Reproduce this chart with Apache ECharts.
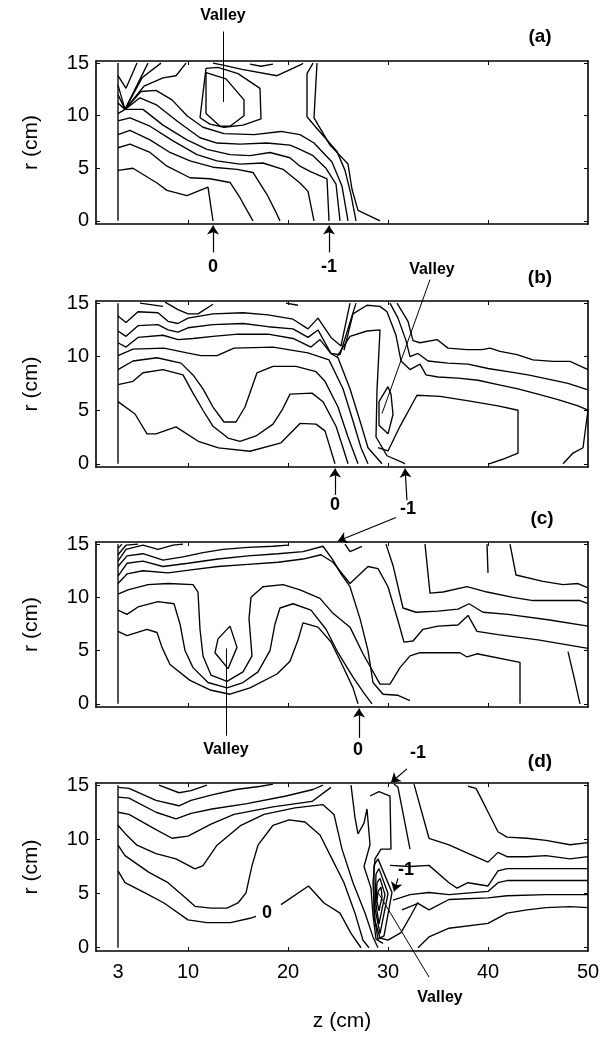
<!DOCTYPE html>
<html><head><meta charset="utf-8">
<script src="https://cdn.jsdelivr.net/npm/echarts@6/dist/echarts.min.js"></script>
<style>html,body{margin:0;padding:0;background:#fff}#c{width:612px;height:1037px}</style>
</head><body><div id="c"></div>
<script>
// ---------- axis ticks ----------
const zTickLabels = [3, 10, 20, 30, 40, 50];
const zTickMarks = [10, 20, 30, 40];
const rTicks = [0, 5, 10, 15];
const panelNames = ['(a)', '(b)', '(c)', '(d)'];

// ---------- contour lines, [z, r] in cm ----------
const contoursA = [
  [[3,0],[3,15]],
  [[3,13.8],[3.8,12.6],[4.9,15]],
  [[3,12.9],[3.7,10.6],[6.0,15]],
  [[3,12.0],[3.7,10.6],[5.4,13.6],[7.3,15]],
  [[3,11.2],[3.7,10.6],[5.6,12.8],[7.5,13.6],[8.8,13.8],[9.8,15]],
  [[3,4.8],[4.5,5.0],[6.9,3.6],[7.9,2.9],[9.9,2.4],[12.0,3.2],[12.5,0]],
  [[3,6.95],[4.2,7.3],[6.2,6.5],[7.9,5.2],[10.2,4.1],[12.2,4.0],[14.2,3.65],[15.2,2.2],[15.9,1.0],[16.5,0]],
  [[3,8.2],[4.2,8.6],[6.2,7.7],[8.2,6.5],[10.2,5.7],[12.5,5.1],[14.9,4.9],[16.5,4.6],[17.9,2.5],[18.7,1.0],[19.2,0]],
  [[3,9.5],[4.2,9.8],[6.2,9.0],[8.5,7.6],[10.9,6.3],[12.9,5.7],[15.2,5.4],[17.5,5.5],[19.5,4.9],[21.2,3.6],[22.0,2.8],[22.6,0]],
  [[3,10.2],[3.7,10.6],[5.5,10.6],[7.5,9.1],[9.9,7.7],[11.9,6.8],[14.2,6.3],[16.2,6.2],[18.2,6.5],[20.2,6.0],[21.2,5.2],[22.2,4.7],[23.9,4.0],[24.1,0]],
  [[3.7,10.6],[5.2,11.7],[6.9,11.0],[8.9,9.5],[11.2,7.9],[12.9,7.4],[15.2,7.3],[17.9,7.4],[20.2,7.2],[21.2,6.8],[22.5,6.2],[23.8,5.0],[24.8,3.5],[25.2,0]],
  [[3.7,10.6],[5.3,12.3],[6.8,12.4],[8.4,11.5],[9.9,10.0],[11.5,8.9],[13.6,8.3],[16.6,8.2],[19.3,8.5],[21.2,8.2],[22.6,7.4],[24.4,5.6],[25.4,3.3],[26.0,0]],
  [[22.5,15],[21.9,14.0],[21.9,9.9],[22.7,9.0],[24.9,6.6],[25.7,4.8],[26.3,2.5],[26.8,0]],
  [[22.9,15],[22.6,9.8],[24.2,7.2],[26.0,5.4],[26.4,3.0],[27.0,1.0],[29.2,0]],
  [[11.8,10.2],[11.8,14.1],[13.8,13.5],[15.6,11.5],[15.6,10.0],[14.2,9.0],[13.2,9.0],[11.8,10.2]],
  [[11.2,9.8],[11.8,14.5],[13.0,14.6],[15.0,14.0],[17.2,12.6],[17.3,9.7],[15.5,9.1],[13.6,8.9],[12.2,9.2],[11.2,9.8]],
  [[12.5,15],[13.5,14.8],[15.4,14.4],[18.9,13.8],[21.4,14.9],[21.5,15]],
  [[16.2,14.9],[17.3,14.7],[18.5,14.9]]
];

const contoursB = [
  [[3,0],[3,15]],
  [[3,5.8],[4.7,4.65],[5.9,2.8],[6.8,2.8],[8.8,3.45],[11.1,2.06],[13.05,1.49],[16.2,1.17],[19.3,1.96],[21.2,3.77],[22.8,3.7],[23.7,3.07],[24.7,0]],
  [[3,7.4],[4.5,7.7],[5.5,8.5],[7.5,8.8],[9.5,8.3],[10.5,6.6],[11.5,5.0],[12.5,3.5],[14.0,2.4],[15.2,2.1],[16.8,2.6],[18.5,3.7],[19.4,5.0],[20.2,6.5],[22.4,6.6],[23.5,5.8],[24.8,3.5],[25.5,1.5],[26.0,0]],
  [[3,8.8],[4.5,9.6],[6.9,9.9],[9.3,9.4],[10.5,8.3],[11.5,7.0],[12.5,5.3],[13.6,3.9],[14.8,3.9],[15.7,5.3],[16.9,8.5],[18.5,9.1],[20.8,9.1],[22.8,8.6],[23.7,7.7],[25.0,5.3],[26.0,2.5],[27.0,0]],
  [[3,10.1],[4.5,10.7],[7.6,10.8],[9.9,10.35],[11.3,10.1],[12.9,10.1],[14.6,10.8],[18.5,10.9],[22.0,10.35],[24.1,9.7],[25.5,7.0],[26.5,4.0],[27.3,1.5],[28.0,0]],
  [[3,11.3],[3.8,10.9],[5.0,11.8],[7.5,12.0],[9.0,11.6],[10.5,11.7],[12.5,11.9],[15.0,12.1],[18.0,12.1],[20.5,11.7],[22.3,10.9],[23.2,11.6],[24.3,10.3],[25.0,9.9],[26.2,7.0],[27.2,4.0],[28.0,1.5],[29.4,0]],
  [[3,12.4],[3.8,11.9],[5.0,12.9],[7.0,13.0],[8.0,12.5],[9.0,12.3],[10.0,12.7],[12.5,13.0],[15.5,13.1],[18.0,12.8],[20.5,12.6],[22.0,11.8],[23.0,12.5],[24.3,10.3],[25.2,10.2],[26.8,15]],
  [[3,13.8],[3.8,13.2],[5.0,14.2],[7.0,14.1],[8.0,13.3],[9.0,13.1],[10.0,13.6],[12.5,14.0],[15.5,14.1],[18.0,13.9],[20.5,13.5],[22.0,12.6],[23.0,13.6],[24.3,11.8],[25.3,11.0],[26.2,15]],
  [[7.7,15.1],[9.0,14.4],[10.0,14.0],[11.0,14.0],[12.5,14.9]],
  [[5.2,15],[7.5,14.7]],
  [[19.8,15],[21.0,14.8]],
  [[24.9,10.0],[26.2,11.9],[27.9,12.4],[29.2,12.5],[28.9,6.9],[28.8,2.5],[29.9,0.75],[31.5,0.1],[31.7,0]],
  [[30.0,7.2],[29.1,5.8],[29.1,3.6],[30.0,2.8],[30.5,4.6],[30.3,6.5],[30.0,7.2]],
  [[29.0,1.5],[30.0,1.2],[31.2,3.5],[32.9,6.4],[35.2,6.3],[37.9,5.9],[41.0,5.4],[43.0,5.0],[43.0,1.0],[41.4,0.4],[40.1,0]],
  [[30.9,15],[32.0,13.3],[32.5,11.5],[33.2,11.3],[34.9,11.6],[36.0,10.8],[37.9,10.66],[39.4,10.66],[40.2,10.8],[41.2,10.5],[42.9,10.2],[44.5,9.7],[46.5,9.56],[48.2,9.56],[50,8.8]],
  [[30.2,15],[31.0,13.6],[31.8,11.5],[32.2,10.0],[33.0,10.3],[34.0,9.6],[36.0,9.4],[38.0,9.3],[40.0,8.9],[42.0,8.6],[44.0,8.3],[46.0,7.9],[48.0,7.5],[50,6.9]],
  [[25.6,10.6],[26.5,14.0],[27.9,14.8],[29.2,14.7],[29.9,14.2],[30.8,12.0],[31.3,9.6],[32.2,8.8],[33.2,9.3],[33.8,8.3],[35.0,8.1],[37.0,8.0],[39.0,7.8],[41.0,7.4],[43.0,7.0],[45.0,6.5],[47.0,6.0],[49.0,5.4],[50,5.0],[49.5,1.5],[48.5,1.0],[47.5,0]]
];

const contoursC = [
  [[3,0],[3,15]],
  [[3,14.6],[3.4,15]],
  [[3,14.0],[3.8,14.9],[5.0,15]],
  [[3,13.4],[3.8,14.5],[5.5,14.9],[7.0,14.5],[8.5,14.9],[9.5,15]],
  [[3,12.9],[3.9,13.9],[5.5,14.1],[7.5,13.5],[9.5,13.8],[11.5,14.2],[13.5,14.5],[16.0,14.7],[18.5,14.8],[20.0,14.9]],
  [[3,12.0],[3.9,13.2],[5.5,13.4],[7.5,12.9],[10.0,13.2],[13.0,13.6],[16.0,13.9],[19.0,14.1],[21.5,14.3],[23.5,14.8],[24.5,13.5],[25.3,12.2],[26.2,11.0],[27.2,8.0],[28.0,5.0],[28.5,2.0],[29.5,0.9],[31.0,0.8],[32.2,0.3]],
  [[3,11.3],[3.9,12.2],[5.5,12.5],[8.0,12.3],[10.5,12.6],[13.0,12.9],[16.0,13.1],[19.0,13.3],[21.5,13.6],[23.3,14.0],[24.5,13.3],[26.2,11.3],[28.0,12.9],[29.0,12.7],[30.0,11.0],[31.0,7.8],[31.6,5.8],[32.5,5.9],[33.5,7.0],[35.0,7.3],[37.0,7.4],[38.0,8.3],[38.9,6.8],[41.0,6.5],[45.0,6.0],[50,5.2]],
  [[3,10.3],[4.0,10.7],[6.0,11.2],[8.0,11.3],[10.5,11.2],[11.0,10.5],[11.2,7.0],[11.5,4.5],[12.3,2.7],[13.9,2.1],[15.5,3.0],[16.4,4.5],[16.1,8.0],[16.3,10.0],[17.5,11.0],[19.5,11.2],[21.2,10.7],[23.2,9.9],[24.5,8.5],[26.2,7.2],[27.5,4.7],[29.2,1.85],[30.2,1.85],[31.2,3.4],[32.2,4.5],[33.2,4.8],[37.2,4.8],[37.9,4.4],[38.9,4.7],[43.2,3.9],[43.2,0]],
  [[3,8.8],[3.9,8.4],[5.0,9.1],[7.0,9.6],[8.6,9.4],[9.2,7.5],[9.7,5.0],[10.5,3.4],[12.0,2.0],[13.9,1.5],[15.5,2.0],[17.0,3.0],[18.2,5.0],[18.7,7.5],[19.2,9.0],[20.5,9.4],[22.3,8.8],[23.8,7.0],[25.0,4.8],[26.5,2.5],[27.6,1.0],[28.4,0]],
  [[3,6.8],[3.9,6.4],[5.9,7.0],[6.9,6.7],[7.4,5.3],[8.2,3.7],[10.2,2.2],[12.2,1.3],[14.2,0.9],[16.2,1.5],[18.9,2.8],[20.2,4.0],[21.0,6.0],[21.5,7.6],[23.0,7.2],[24.3,5.8],[25.5,3.5],[26.5,1.5],[27.0,0]],
  [[13.0,6.1],[14.2,7.3],[14.9,5.3],[14.0,3.3],[12.7,4.8],[13.0,6.1]],
  [[25.7,15],[26.2,14.3],[27.4,14.8]],
  [[33.7,15],[34.2,10.4],[35.5,10.5],[37.9,11.0],[39.9,10.5],[42.5,10.0],[44.5,9.7],[49.2,9.7],[50,9.4]],
  [[29.8,15],[30.5,13.0],[31.5,9.0],[32.8,8.6],[35.0,8.7],[37.0,8.9],[38.1,9.4],[39.5,8.6],[42.0,8.4],[46.0,7.9],[50,7.3]],
  [[48.0,4.9],[48.6,2.5],[49.2,0]],
  [[39.9,15],[40.0,12.3]],
  [[42.2,15],[42.8,12.1],[45.5,11.5],[47.5,11.2],[49.0,11.3],[50,10.9]]
];

const contoursD = [
  [[3,0],[3,15]],
  [[3,7.1],[3.7,6.0],[5.7,5.07],[7.6,4.13],[10.0,2.57],[11.9,2.32],[14.25,2.32],[16.2,2.72],[16.8,2.9]],
  [[19.3,3.98],[22.05,5.7],[23.6,4.13],[25.2,3.19],[26.3,1.32],[27.3,0]],
  [[3,9.46],[3.7,8.5],[6.1,6.95],[8.0,6.0],[9.57,4.76],[10.7,3.82],[12.3,3.66],[13.9,3.66],[15.0,4.13],[15.8,5.07],[16.4,7.58],[17.0,9.46],[18.5,11.3],[20.1,11.8],[21.7,11.6],[23.2,10.4],[24.4,8.2],[25.6,6.0],[26.7,3.19],[27.5,0.69],[28.1,0]],
  [[3,11.3],[3.7,10.55],[4.9,9.46],[6.8,8.68],[8.8,8.2],[10.7,7.27],[11.5,7.58],[12.9,9.46],[15.3,11.3],[17.6,12.3],[20.7,12.9],[23.5,13.2],[24.6,12.3],[25.4,9.1],[26.5,6.0],[27.7,3.2],[28.5,1.0],[29.0,0]],
  [[3,12.5],[4.1,12.3],[6.8,10.9],[8.4,10.1],[10.0,10.3],[12.3,11.4],[14.6,12.3],[18.5,13.0],[22.4,13.5],[24.3,14.8]],
  [[3,13.9],[4.1,13.8],[6.8,12.5],[8.8,11.9],[10.3,12.4],[12.4,12.8],[15.9,13.3],[19.8,14.0],[22.5,14.6],[23.5,15]],
  [[3,14.8],[4.1,14.7],[6.8,13.6],[9.1,13.1],[10.3,13.6],[12.4,14.1],[14.8,14.6],[17.3,14.9],[18.5,15.1]],
  [[7.1,15],[9.1,14.3],[10.3,14.5],[11.9,15]],
  [[26.3,15],[26.7,12.0],[27.0,10.5],[27.6,11.5],[27.9,12.8],[28.2,9.5],[27.6,7.5],[28.3,5.5],[28.5,3.0],[28.8,0.8],[29.5,0.4]],
  [[28.2,14.0],[29.1,14.4],[30.2,14.0],[30.3,9.1],[29.3,9.1],[28.7,8.2],[28.5,6.0],[28.7,2.5],[29.2,0.9],[30.0,0.7],[31.3,1.4],[32.3,3.0],[33.0,4.2]],
  [[29.0,5.2],[29.3,5.6],[29.4,4.7],[29.1,3.4],[28.9,4.3],[29.0,5.2]],
  [[28.9,6.0],[29.2,6.4],[29.7,4.9],[29.1,2.2],[28.8,4.0],[28.9,6.0]],
  [[28.8,6.8],[29.1,7.3],[30.0,5.0],[29.2,1.3],[28.7,3.6],[28.8,6.8]],
  [[28.6,7.6],[29.0,8.2],[30.4,5.1],[29.6,1.1],[29.0,0.8],[28.6,3.0],[28.6,7.6]],
  [[30.6,15.1],[31.0,14.8],[32.2,9.1]],
  [[38.0,14.9],[38.8,14.7],[39.8,12.9],[41.0,10.7],[41.9,10.2],[43.9,10.1],[45.8,9.9],[48.2,9.5],[50,9.7]],
  [[32.6,15.1],[34.1,10.1],[36.1,9.5],[38.0,8.7],[40.0,7.9],[41.0,8.8],[41.9,8.4],[43.9,8.4],[45.8,8.5],[48.2,8.2],[50,8.4]],
  [[30.2,7.6],[32.2,7.5],[34.1,7.6],[36.1,6.0],[36.9,5.5],[38.0,6.0],[40.0,5.7],[41.0,7.1],[41.9,7.3],[45.8,7.3],[50,7.3]],
  [[30.5,4.4],[32.2,4.9],[34.1,5.1],[36.1,4.9],[40.0,5.2],[41.0,6.0],[41.9,6.2],[45.8,6.2],[50,6.2]],
  [[31.4,3.5],[33.0,4.1],[34.1,3.5],[36.1,4.45],[40.0,4.6],[41.9,4.8],[45.8,4.9],[50,4.9]],
  [[33.0,0],[34.1,1.0],[36.1,1.8],[40.0,2.25],[41.9,3.2],[43.9,3.5],[45.8,3.7],[48.2,3.8],[50,3.7]]
];

// ---------- annotation arrows / leaders, [z, r] ----------
const arrowsA = [[[12.5,-3.0],[12.5,-0.45]], [[24.1,-3.0],[24.1,-0.45]]];
const leadersA = [[[13.5,18.0],[13.5,11.3]]];
const arrowsB = [[[24.7,-2.9],[24.7,-0.45]], [[31.9,-3.4],[31.7,-0.45]]];
const leadersB = [[[34.2,17.2],[29.4,4.7]]];
const arrowsC = [[[30.8,17.5],[25.0,15.3]], [[27.1,-3.2],[27.1,-0.45]]];
const leadersC = [[[13.8,5.2],[13.8,-3.0]]];
const arrowsD = [[[31.9,16.5],[30.3,15.25]], [[31.0,6.4],[30.6,5.2]]];
const leadersD = [[[29.0,5.1],[34.1,-2.7]]];

const panels = [contoursA, contoursB, contoursC, contoursD];
const arrows = [arrowsA, arrowsB, arrowsC, arrowsD];
const leaders = [leadersA, leadersB, leadersC, leadersD];

const layout = [{top:61,height:163},{top:301,height:166},{top:542,height:165},{top:783,height:168}];
const Z_MIN = 0.8, Z_MAX = 50, R_MIN = -0.3, R_MAX = 15.2;
const FONT = 'Liberation Sans, Arial, sans-serif';

const option = {animation:false, backgroundColor:'#fff', grid:[], xAxis:[], yAxis:[], series:[], graphic:[]};
const axLine = {onZero:false, lineStyle:{color:'#000', width:1.6}};
panels.forEach((lines, i) => {
  const last = i === 3;
  option.grid.push({left:96, right:24, top:layout[i].top, height:layout[i].height});
  option.xAxis.push({type:'value', gridIndex:i, min:Z_MIN, max:Z_MAX, position:'bottom',
    axisLine:axLine, splitLine:{show:false},
    axisTick:{inside:true, length:4, customValues:zTickMarks, lineStyle:{color:'#000', width:1}},
    axisLabel:{show:last, customValues:zTickLabels, color:'#000', fontSize:20, fontFamily:FONT, margin:11},
    name: last ? 'z (cm)' : '', nameLocation:'middle', nameGap:60,
    nameTextStyle:{color:'#000', fontSize:21, fontFamily:FONT}});
  option.xAxis.push({type:'value', gridIndex:i, min:Z_MIN, max:Z_MAX, position:'top',
    axisLine:axLine, splitLine:{show:false},
    axisTick:{inside:true, length:4, customValues:zTickMarks, lineStyle:{color:'#000', width:1}},
    axisLabel:{show:false}});
  option.yAxis.push({type:'value', gridIndex:i, min:R_MIN, max:R_MAX, position:'left',
    axisLine:axLine, splitLine:{show:false},
    axisTick:{inside:true, length:4, customValues:rTicks, lineStyle:{color:'#000', width:1}},
    axisLabel:{customValues:rTicks, color:'#000', fontSize:20, fontFamily:FONT, margin:7},
    name:'r (cm)', nameLocation:'middle', nameGap:54, nameRotate:90,
    nameTextStyle:{color:'#000', fontSize:21, fontFamily:FONT}});
  option.yAxis.push({type:'value', gridIndex:i, min:R_MIN, max:R_MAX, position:'right',
    axisLine:axLine, splitLine:{show:false},
    axisTick:{inside:true, length:4, customValues:rTicks, lineStyle:{color:'#000', width:1}},
    axisLabel:{show:false}});
  lines.forEach(line => option.series.push({type:'line', xAxisIndex:2*i, yAxisIndex:2*i,
    data:line, showSymbol:false, symbol:'none', silent:true,
    lineStyle:{color:'#000', width:1.35}}));
  option.series.push({type:'lines', coordinateSystem:'cartesian2d', xAxisIndex:2*i, yAxisIndex:2*i,
    clip:false, silent:true, symbol:['none','arrow'], symbolSize:9,
    lineStyle:{color:'#000', width:1.2, opacity:1},
    data: arrows[i].map(c => ({coords:c}))});
  option.series.push({type:'lines', coordinateSystem:'cartesian2d', xAxisIndex:2*i, yAxisIndex:2*i,
    clip:false, silent:true, symbol:'none',
    lineStyle:{color:'#000', width:1, opacity:1},
    data: leaders[i].map(c => ({coords:c}))});
});

const bold = (t, x, y, size) => ({type:'text', x, y, style:{text:t, x:0, y:0, align:'center', verticalAlign:'middle',
  font:`bold ${size}px ${FONT}`, fill:'#000'}});
option.graphic = [
  bold('Valley', 223, 16, 16), bold(panelNames[0], 540, 37, 19), bold('0', 213, 267, 18), bold('-1', 329, 267, 18),
  bold('Valley', 432, 270, 16), bold(panelNames[1], 540, 278, 19), bold('0', 335, 505, 18), bold('-1', 408, 509, 18),
  bold(panelNames[2], 542, 519, 19), bold('Valley', 226, 750, 16), bold('0', 358, 750, 18),
  bold('-1', 418, 753, 18), bold(panelNames[3], 540, 762, 19), bold('-1', 406, 870, 18),
  bold('Valley', 440, 998, 16), bold('0', 267, 913, 18)
];

const chart = echarts.init(document.getElementById('c'), null, {renderer:'canvas'});
chart.setOption(option);
</script>
</body></html>
